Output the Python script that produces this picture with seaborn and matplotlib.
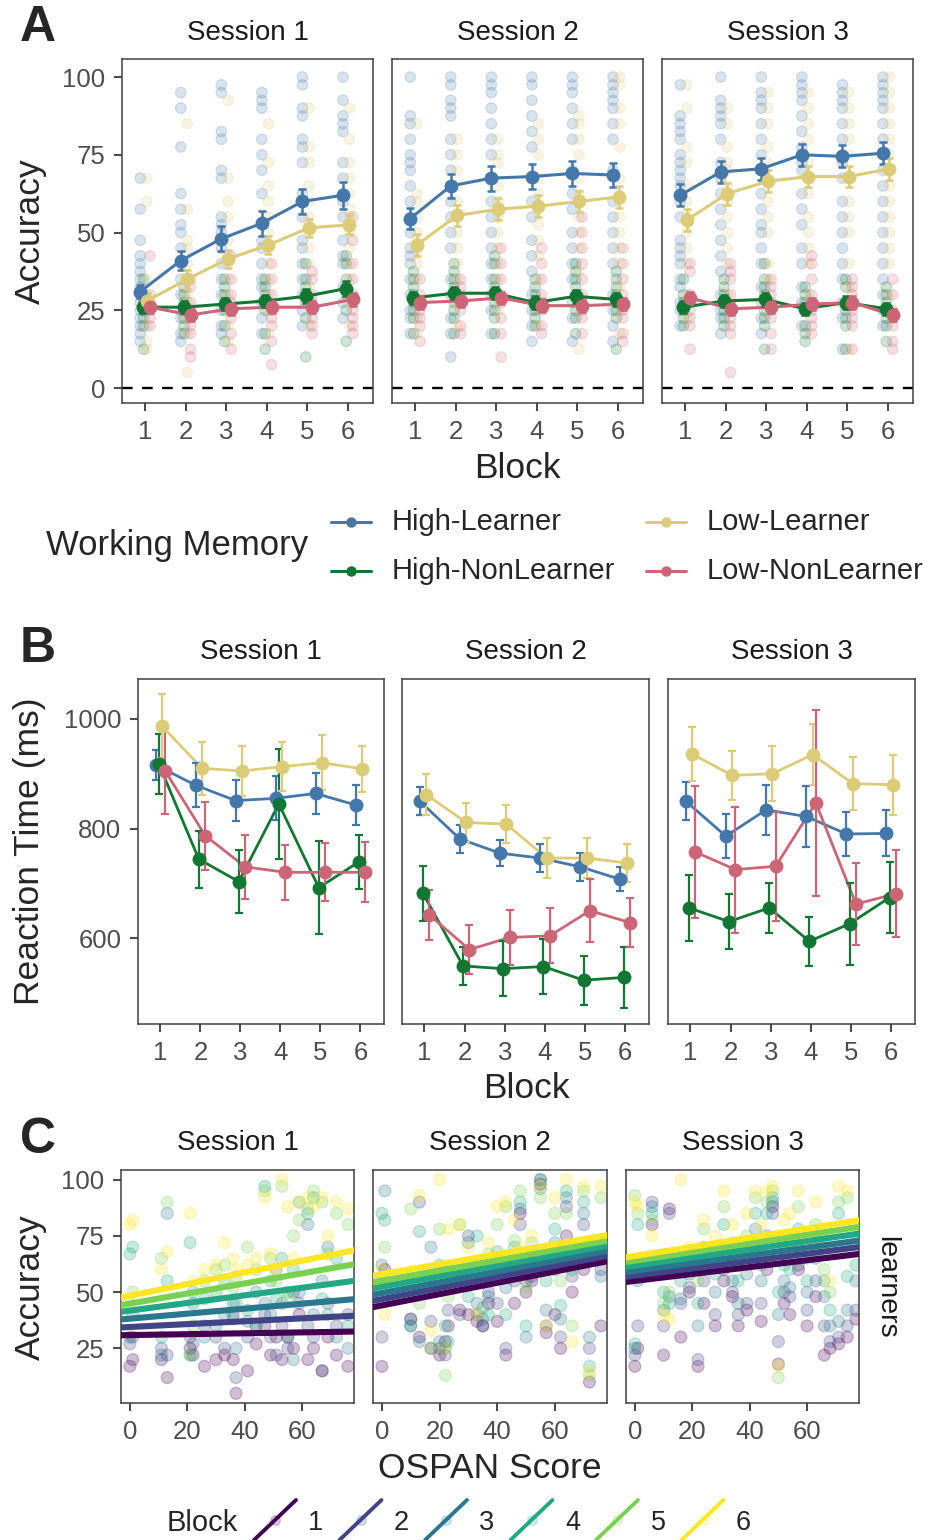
import numpy as np
import pandas as pd
import matplotlib
matplotlib.use("Agg")
import matplotlib.pyplot as plt
import seaborn as sns
from matplotlib.lines import Line2D

sns.set_theme(style="ticks")
plt.rcParams['font.family'] = ['Liberation Sans', 'DejaVu Sans']

# ---------------- DATA ----------------
SESSIONS = ["Session 1", "Session 2", "Session 3"]
BLOCKS = [1, 2, 3, 4, 5, 6]
GROUPS = ["High-Learner", "High-NonLearner", "Low-Learner", "Low-NonLearner"]
GROUP_COLORS = ["#4477AA", "#117733", "#DDCC77", "#CC6677"]

# Panel A: mean accuracy and standard error, per session (rows) x block (cols)
acc_mean_HL = [[31, 41, 48, 53, 60, 62], [54.5, 65, 67.5, 68, 69, 68.5], [62, 69.5, 70.5, 75, 74.5, 75.5]]
acc_se_HL = [[2, 3, 4, 4, 4, 4.3], [3.5, 3.8, 4, 4, 4, 4], [3.5, 3.5, 3.5, 3.5, 3.5, 3.5]]
acc_mean_HNL = [[26, 26, 27, 28, 29.5, 32], [29, 30.5, 30.5, 27.5, 29.5, 28.5], [26, 28, 28.5, 25.5, 27.5, 25.5]]
acc_se_HNL = [[2, 2, 2, 2, 2.2, 2.5], [2, 2, 2, 2, 2, 2], [2, 2, 2, 2, 2, 2]]
acc_mean_LL = [[28, 35, 41.5, 46, 51.5, 52.5], [46, 55.5, 57.5, 58.5, 60, 61.5], [54, 62.5, 66.5, 68, 68, 70.5]]
acc_se_LL = [[2.5, 3, 3, 3, 3, 3], [3.5, 3.5, 3.5, 3.5, 3.5, 3.5], [3.5, 3.5, 3.5, 3.5, 3.5, 3.5]]
acc_mean_LNL = [[26, 23.5, 25.5, 26, 26, 28.5], [27.5, 28, 29, 26.5, 26.5, 27], [29, 25.5, 26, 27, 27.5, 23.5]]
acc_se_LNL = [[2, 2, 2, 2, 2, 2], [2, 2, 2, 2, 2, 2], [2, 2, 2, 2, 2, 2]]

# Panel A: individual accuracies [session][block]
acc_pts_HL = [
    [[15, 17.5, 20, 22.5, 25, 27.5, 30, 32.5, 35, 37.5, 40, 42.5, 47.5, 57.5, 67.5],
     [15, 17.5, 22.5, 25, 30, 35, 40, 45, 50, 52.5, 57.5, 62.5, 77.5, 90, 95],
     [17.5, 20, 25, 30, 35, 40, 45, 50, 52.5, 55, 67.5, 70, 80, 82.5, 95, 97.5],
     [17.5, 22.5, 27.5, 32.5, 35, 40, 45, 47.5, 52.5, 62.5, 70, 75, 80, 90, 92.5, 95],
     [20, 25, 30, 35, 40, 45, 47.5, 55, 60, 62.5, 72.5, 77.5, 80, 87.5, 90, 97.5, 100],
     [22.5, 27.5, 32.5, 40, 42.5, 47.5, 55, 60, 62.5, 67.5, 72.5, 82.5, 85, 87.5, 92.5, 100]],
    [[17.5, 22.5, 25, 30, 35, 40, 42.5, 45, 50, 55, 60, 65, 70, 72.5, 75, 80, 85, 87.5, 100],
     [10, 17.5, 22.5, 30, 35, 45, 50, 55, 60, 65, 70, 75, 80, 87.5, 90, 92.5, 97.5, 100],
     [17.5, 25, 30, 35, 40, 45, 50, 55, 60, 67.5, 75, 80, 85, 90, 95, 97.5, 100],
     [15, 20, 25, 30, 37.5, 42.5, 47.5, 55, 60, 67.5, 77.5, 82.5, 87.5, 92.5, 97.5, 100],
     [15, 22.5, 27.5, 35, 40, 45, 50, 57.5, 62.5, 70, 80, 85, 90, 95, 97.5, 100],
     [15, 20, 25, 30, 40, 45, 50, 55, 60, 70, 80, 85, 90, 92.5, 95, 97.5, 100]],
    [[20, 25, 27.5, 32.5, 35, 40, 42.5, 45, 47.5, 55, 60, 65, 67.5, 70, 72.5, 75, 80, 82.5, 85, 87.5, 97.5],
     [17.5, 22.5, 25, 30, 37.5, 42.5, 47.5, 52.5, 57.5, 62.5, 67.5, 72.5, 80, 85, 87.5, 90, 92.5, 100],
     [17.5, 22.5, 27.5, 32.5, 40, 45, 50, 52.5, 57.5, 62.5, 70, 75, 80, 85, 90, 92.5, 95, 100],
     [20, 27.5, 32.5, 40, 45, 52.5, 57.5, 62.5, 70, 72.5, 77.5, 82.5, 87.5, 92.5, 95, 97.5, 100],
     [12.5, 22.5, 27.5, 35, 40, 45, 50, 55, 60, 67.5, 72.5, 80, 85, 90, 92.5, 95, 97.5],
     [20, 25, 30, 35, 40, 45, 50, 55, 60, 65, 70, 75, 80, 85, 90, 92.5, 95, 97.5, 100]],
]
acc_pts_HNL = [
    [[12.5, 20, 22.5, 25, 27.5, 30, 35], [17.5, 20, 22.5, 25, 27.5, 30, 32.5],
     [15, 20, 25, 27.5, 30, 32.5, 35], [12.5, 17.5, 25, 27.5, 30, 32.5, 35],
     [10, 22.5, 27.5, 30, 32.5, 35, 40], [15, 25, 30, 32.5, 35, 40, 42.5]],
    [[17.5, 22.5, 25, 27.5, 30, 32.5, 35, 37.5], [17.5, 22.5, 25, 27.5, 30, 32.5, 35, 37.5, 40],
     [17.5, 22.5, 25, 27.5, 30, 32.5, 35, 40, 42.5], [20, 22.5, 25, 27.5, 30, 32.5, 35],
     [17.5, 22.5, 25, 30, 32.5, 35, 37.5, 40], [12.5, 22.5, 25, 27.5, 30, 32.5, 35, 37.5]],
    [[20, 22.5, 25, 27.5, 30, 35], [20, 22.5, 25, 27.5, 30, 32.5, 35],
     [12.5, 20, 22.5, 25, 30, 32.5, 35, 40], [15, 17.5, 20, 25, 27.5, 30, 32.5],
     [12.5, 20, 22.5, 25, 27.5, 32.5, 35], [15, 20, 22.5, 25, 27.5, 30, 32.5]],
]
acc_pts_LL = [
    [[12.5, 15, 20, 25, 27.5, 30, 35, 60, 67.5], [5, 17.5, 22.5, 27.5, 30, 35, 40, 45, 47.5, 57.5, 85],
     [15, 20, 25, 30, 35, 40, 42.5, 47.5, 55, 60, 67.5, 92.5], [17.5, 25, 30, 35, 40, 45, 50, 55, 60, 65, 72.5, 85],
     [20, 27.5, 32.5, 40, 45, 50, 52.5, 55, 60, 65, 72.5, 77.5, 90], [20, 27.5, 35, 40, 45, 50, 55, 57.5, 62.5, 67.5, 72.5, 80, 90]],
    [[17.5, 22.5, 27.5, 35, 40, 45, 47.5, 50, 55, 60, 62.5, 85], [20, 27.5, 35, 40, 45, 50, 55, 60, 65, 70, 75, 80],
     [25, 30, 35, 40, 45, 50, 55, 60, 65, 72.5, 75, 80], [20, 27.5, 35, 42.5, 47.5, 52.5, 57.5, 62.5, 67.5, 75, 80, 85],
     [12.5, 25, 30, 37.5, 45, 50, 55, 62.5, 67.5, 75, 80, 85, 87.5], [17.5, 25, 32.5, 40, 45, 50, 55, 60, 67.5, 77.5, 85, 90, 97.5, 100]],
    [[22.5, 30, 40, 45, 50, 55, 60, 65, 72.5, 77.5, 90, 97.5], [30, 40, 45, 50, 55, 60, 65, 70, 72.5, 77.5, 85, 90],
     [25, 35, 40, 50, 55, 60, 67.5, 72.5, 77.5, 85, 90, 95], [30, 40, 45, 50, 55, 62.5, 67.5, 72.5, 80, 85, 90, 95],
     [12.5, 32.5, 40, 50, 55, 60, 67.5, 75, 80, 85, 90, 95], [30, 40, 45, 50, 55, 60, 65, 70, 75, 80, 85, 90, 95, 100]],
]
acc_pts_LNL = [
    [[20, 22.5, 25, 27.5, 30, 42.5], [10, 12.5, 17.5, 20, 22.5, 25, 27.5, 32.5, 35],
     [12.5, 17.5, 22.5, 25, 27.5, 30, 35, 42.5], [7.5, 15, 20, 22.5, 25, 30, 35, 40],
     [17.5, 20, 22.5, 25, 27.5, 30, 35, 37.5], [17.5, 20, 22.5, 25, 27.5, 30, 35, 40, 47.5, 55]],
    [[15, 20, 22.5, 25, 27.5, 30, 35], [17.5, 20, 25, 27.5, 30, 32.5, 35],
     [10, 17.5, 22.5, 27.5, 30, 35, 40, 45], [17.5, 20, 25, 27.5, 30, 35, 40, 45],
     [17.5, 22.5, 25, 27.5, 30, 35, 40, 45, 50, 55], [15, 17.5, 22.5, 25, 27.5, 30, 35, 40, 45]],
    [[12.5, 20, 22.5, 25, 27.5, 30, 37.5, 40], [5, 17.5, 20, 22.5, 25, 30, 35, 37.5, 40],
     [12.5, 17.5, 22.5, 25, 27.5, 30, 32.5, 35], [17.5, 20, 22.5, 25, 27.5, 30, 35, 40, 42.5],
     [12.5, 20, 22.5, 25, 27.5, 30, 32.5, 35], [12.5, 15, 20, 22.5, 25, 30, 35]],
]

# Panel B: mean reaction time and error, [session][block]
rt_mean_HL = [[916, 879, 851, 855, 864, 843], [850, 781, 755, 746, 730, 707], [850, 786, 834, 822, 790, 791]]
rt_err_HL = [[28, 40, 38, 40, 37, 36], [25, 25, 24, 25, 25, 22], [35, 40, 45, 55, 40, 42]]
rt_mean_HNL = [[918, 744, 703, 845, 692, 739], [682, 549, 544, 548, 523, 528], [655, 630, 655, 594, 626, 674]]
rt_err_HNL = [[55, 52, 58, 100, 85, 50], [50, 35, 50, 50, 45, 55], [60, 50, 45, 45, 75, 65]]
rt_mean_LL = [[987, 910, 905, 913, 920, 909], [862, 811, 808, 746, 746, 737], [936, 897, 900, 935, 882, 880]]
rt_err_LL = [[58, 48, 45, 45, 50, 42], [38, 35, 35, 37, 37, 35], [50, 45, 50, 55, 48, 55]]
rt_mean_LNL = [[905, 787, 730, 720, 720, 720], [642, 579, 601, 604, 650, 628], [757, 725, 731, 847, 662, 681]]
rt_err_LNL = [[78, 62, 58, 50, 53, 55], [45, 45, 50, 50, 58, 45], [120, 115, 100, 170, 75, 80]]

# Panel C: learners' OSPAN score and accuracy per block [block][participant]
ospan_S1 = [0, 1, 11, 13, 21, 22, 26, 30, 33, 36, 37, 41, 44, 47, 49, 51, 53, 55, 57, 59, 62, 64, 67, 69, 72, 76]
acc_C_S1 = [
    [17, 20, 20, 12, 25, 22, 17, 20, 22, 20, 5, 15, 27, 35, 22, 30, 20, 30, 25, 40, 20, 25, 15, 30, 22, 17],
    [27, 30, 25, 22, 30, 27, 35, 30, 25, 40, 12, 30, 35, 40, 30, 22, 35, 25, 50, 45, 35, 30, 15, 45, 35, 40],
    [30, 40, 22, 85, 22, 45, 30, 35, 40, 45, 25, 37, 50, 45, 40, 60, 45, 30, 20, 50, 80, 40, 55, 70, 30, 25],
    [67, 70, 30, 55, 72, 50, 47, 50, 55, 38, 45, 42, 35, 97, 55, 47, 65, 50, 60, 90, 85, 92, 47, 40, 65, 35],
    [45, 50, 65, 90, 22, 35, 55, 60, 62, 52, 57, 70, 60, 95, 65, 55, 97, 47, 75, 82, 87, 95, 90, 67, 85, 80],
    [80, 82, 60, 68, 85, 55, 60, 62, 72, 65, 60, 62, 65, 92, 67, 60, 100, 88, 65, 90, 92, 88, 92, 75, 90, 87],
]
ospan_S2 = [0, 1, 10, 13, 17, 20, 22, 23, 27, 30, 33, 35, 37, 40, 43, 46, 48, 50, 52, 55, 57, 60, 62, 64, 66, 70, 72, 76]
acc_C_S2 = [
    [17, 60, 38, 30, 25, 22, 28, 35, 42, 40, 37, 35, 45, 37, 22, 45, 85, 50, 55, 98, 32, 40, 25, 75, 50, 60, 10, 35],
    [30, 55, 35, 90, 37, 25, 22, 42, 40, 75, 40, 35, 50, 45, 25, 55, 80, 55, 57, 100, 35, 60, 30, 88, 57, 80, 25, 60],
    [62, 95, 38, 28, 70, 28, 25, 60, 55, 72, 45, 38, 48, 62, 52, 63, 87, 30, 62, 96, 42, 72, 38, 92, 65, 85, 30, 57],
    [85, 82, 35, 77, 55, 62, 35, 28, 58, 48, 75, 43, 40, 68, 40, 70, 90, 35, 68, 100, 55, 78, 44, 95, 60, 90, 17, 70],
    [55, 70, 87, 45, 25, 78, 13, 48, 80, 62, 60, 55, 67, 80, 88, 73, 95, 52, 72, 92, 60, 85, 55, 85, 35, 95, 13, 92],
    [60, 40, 55, 93, 33, 100, 25, 78, 80, 70, 40, 62, 72, 88, 90, 82, 70, 60, 75, 97, 35, 92, 62, 100, 28, 97, 15, 97],
]
ospan_S3 = [0, 1, 6, 10, 12, 16, 19, 22, 24, 28, 31, 34, 36, 39, 42, 44, 46, 48, 50, 52, 54, 57, 60, 63, 66, 68, 71, 74, 77]
acc_C_S3 = [
    [17, 25, 80, 22, 87, 30, 50, 17, 45, 35, 55, 48, 35, 42, 65, 37, 60, 88, 18, 45, 40, 60, 35, 48, 22, 25, 27, 30, 38],
    [22, 35, 90, 35, 85, 45, 52, 20, 55, 40, 60, 50, 40, 45, 70, 45, 65, 85, 28, 50, 48, 62, 42, 55, 35, 28, 30, 35, 42],
    [25, 55, 88, 42, 48, 47, 58, 35, 62, 50, 70, 55, 45, 58, 78, 55, 75, 90, 40, 55, 52, 70, 50, 65, 48, 35, 37, 42, 55],
    [27, 80, 85, 50, 45, 55, 62, 45, 70, 58, 80, 62, 55, 68, 85, 62, 85, 92, 50, 62, 60, 78, 55, 72, 55, 42, 85, 57, 62],
    [93, 85, 82, 45, 50, 60, 65, 55, 78, 68, 88, 72, 62, 75, 92, 72, 90, 95, 12, 70, 75, 88, 65, 80, 60, 50, 90, 92, 72],
    [90, 88, 75, 40, 38, 100, 70, 62, 82, 75, 95, 80, 70, 85, 95, 80, 95, 97, 17, 82, 85, 95, 72, 90, 70, 55, 97, 95, 80],
]
# fitted lines (intercept at OSPAN 0, slope) per block
fit_int_S1 = [30.9, 34.5, 38.2, 41.8, 44.9, 48.4]
fit_slope_S1 = [0.020, 0.064, 0.111, 0.169, 0.224, 0.259]
fit_int_S2 = [44.1, 46.9, 49.6, 52.4, 55.1, 58.0]
fit_slope_S2 = [0.251, 0.246, 0.240, 0.234, 0.228, 0.222]
fit_int_S3 = [55.0, 57.3, 59.5, 61.8, 64.0, 66.1]
fit_slope_S3 = [0.153, 0.163, 0.172, 0.182, 0.192, 0.203]
BLOCK_COLORS = ["#440154", "#414487", "#2A788E", "#22A884", "#7AD151", "#FDE725"]

# ---------------- LAYOUT ----------------
W, H = 940, 1540
fig = plt.figure(figsize=(W / 100, H / 100), dpi=100)
PAL = dict(zip(GROUPS, GROUP_COLORS))
DODGE = dict(zip(GROUPS, [-0.12, -0.04, 0.04, 0.12]))
TICK_C = "#4d4d4d"
FS_TICK = 18.5
FS_STRIP = 20
FS_TITLE = 25.5


def add_ax(x0, x1, y0, y1):
    return fig.add_axes([x0 / W, 1 - y1 / H, (x1 - x0) / W, (y1 - y0) / H])


def style(ax):
    for s in ax.spines.values():
        s.set_color("#404040")
        s.set_linewidth(1.1)
        s.set_visible(True)
    ax.tick_params(axis="both", direction="out", length=5.5, width=1.5, color=TICK_C,
                   labelcolor=TICK_C, labelsize=FS_TICK, pad=6.5)
    ax.grid(False)
    ax.set_xlabel("")
    ax.set_ylabel("")


ov = fig.add_axes([0, 0, 1, 1], zorder=10)
ov.set_xlim(0, W)
ov.set_ylim(H, 0)
ov.axis("off")


def txt(x, y, s, size, **kw):
    ov.text(x, y, s, fontsize=size, ha=kw.pop("ha", "center"), va=kw.pop("va", "center"), **kw)


# ---------------- PANEL A ----------------
A_X = [(122, 373), (392, 643), (662, 913)]
A_Y = (59, 403)
acc_means = dict(zip(GROUPS, [acc_mean_HL, acc_mean_HNL, acc_mean_LL, acc_mean_LNL]))
acc_ses = dict(zip(GROUPS, [acc_se_HL, acc_se_HNL, acc_se_LL, acc_se_LNL]))
acc_pts = dict(zip(GROUPS, [acc_pts_HL, acc_pts_HNL, acc_pts_LL, acc_pts_LNL]))

for si in range(3):
    ax = add_ax(A_X[si][0], A_X[si][1], *A_Y)
    rows = []
    for g in GROUPS:
        for bi, vals in enumerate(acc_pts[g][si]):
            for v in vals:
                rows.append((BLOCKS[bi] + DODGE[g], v, g))
    pdf = pd.DataFrame(rows, columns=["x", "acc", "group"])
    sns.scatterplot(data=pdf, x="x", y="acc", hue="group", hue_order=GROUPS, palette=PAL,
                    alpha=0.2, s=58, edgecolor="face", linewidth=0.9, legend=False, ax=ax, zorder=1)
    ax.axhline(0, color="black", lw=1.7, ls=(0, (4.5, 4)), zorder=2)
    for g in GROUPS:
        xs = [b + DODGE[g] for b in BLOCKS]
        mdf = pd.DataFrame({"x": xs, "m": acc_means[g][si]})
        sns.lineplot(data=mdf, x="x", y="m", color=PAL[g], lw=2.2, ax=ax, zorder=3)
        ax.errorbar(xs, acc_means[g][si], yerr=acc_ses[g][si], fmt="o", color=PAL[g], ms=9,
                    capsize=3.2, elinewidth=1.8, capthick=1.8, zorder=4)
    ax.set_xlim(0.43, 6.62)
    ax.set_ylim(-4.8, 105.8)
    ax.set_xticks(BLOCKS)
    ax.set_yticks([0, 25, 50, 75, 100])
    style(ax)
    if si > 0:
        ax.tick_params(axis="y", left=False, labelleft=False)
    txt((A_X[si][0] + A_X[si][1]) / 2, 33, SESSIONS[si], FS_STRIP, color="#1a1a1a")

txt(38, 28, "A", 36, fontweight="bold")
txt(30, 231, "Accuracy", FS_TITLE, rotation=90)
txt(517, 468, "Block", FS_TITLE)

# legend A
txt(46, 546, "Working Memory", 25, ha="left")
leg_pos = {"High-Learner": (331, 522), "High-NonLearner": (331, 571),
           "Low-Learner": (646, 522), "Low-NonLearner": (646, 571)}
for g in GROUPS:
    x0, y0 = leg_pos[g]
    ov.add_line(Line2D([x0, x0 + 40], [y0, y0], color=PAL[g], lw=2.2))
    ov.plot([x0 + 20], [y0], "o", color=PAL[g], ms=6.5)
    txt(x0 + 61, y0, g, 21, ha="left")

# ---------------- PANEL B ----------------
B_X = [(138, 384), (402, 649), (668, 915)]
B_Y = (679, 1024)
rt_means = dict(zip(GROUPS, [rt_mean_HL, rt_mean_HNL, rt_mean_LL, rt_mean_LNL]))
rt_errs = dict(zip(GROUPS, [rt_err_HL, rt_err_HNL, rt_err_LL, rt_err_LNL]))
for si in range(3):
    ax = add_ax(B_X[si][0], B_X[si][1], *B_Y)
    for g in GROUPS:
        xs = [b + DODGE[g] for b in BLOCKS]
        mdf = pd.DataFrame({"x": xs, "m": rt_means[g][si]})
        sns.lineplot(data=mdf, x="x", y="m", color=PAL[g], lw=2.0, ax=ax, zorder=3)
        ax.errorbar(xs, rt_means[g][si], yerr=rt_errs[g][si], fmt="o", color=PAL[g], ms=9,
                    capsize=2.6, elinewidth=1.6, capthick=1.6, zorder=4)
    ax.set_xlim(0.44, 6.59)
    ax.set_ylim(443, 1073)
    ax.set_xticks(BLOCKS)
    ax.set_yticks([600, 800, 1000])
    style(ax)
    if si > 0:
        ax.tick_params(axis="y", left=False, labelleft=False)
    txt((B_X[si][0] + B_X[si][1]) / 2, 652, SESSIONS[si], FS_STRIP, color="#1a1a1a")

txt(38, 649, "B", 36, fontweight="bold")
txt(30, 851, "Reaction Time (ms)", FS_TITLE, rotation=90)
txt(526, 1088, "Block", FS_TITLE)

# ---------------- PANEL C ----------------
C_X = [(121, 354), (373, 607), (626, 859)]
C_Y = (1170, 1403)
C_XLIM = (-3.1, 78.1)
ospans = [ospan_S1, ospan_S2, ospan_S3]
accCs = [acc_C_S1, acc_C_S2, acc_C_S3]
fints = [fit_int_S1, fit_int_S2, fit_int_S3]
fslopes = [fit_slope_S1, fit_slope_S2, fit_slope_S3]
BPAL = dict(zip([str(b) for b in BLOCKS], BLOCK_COLORS))
for si in range(3):
    ax = add_ax(C_X[si][0], C_X[si][1], *C_Y)
    rows = []
    for bi, vals in enumerate(accCs[si]):
        for o, v in zip(ospans[si], vals):
            rows.append((o, v, str(BLOCKS[bi])))
    cdf = pd.DataFrame(rows, columns=["ospan", "acc", "block"])
    sns.scatterplot(data=cdf, x="ospan", y="acc", hue="block", palette=BPAL,
                    hue_order=[str(b) for b in BLOCKS], alpha=0.25, s=74, edgecolor="face",
                    linewidth=0.9, legend=False, ax=ax, zorder=1)
    xl = np.array(C_XLIM)
    for bi in range(6):
        ldf = pd.DataFrame({"x": xl, "y": fints[si][bi] + fslopes[si][bi] * xl})
        sns.lineplot(data=ldf, x="x", y="y", color=BLOCK_COLORS[bi], lw=4.4, ax=ax, zorder=3)
    ax.set_xlim(*C_XLIM)
    ax.set_ylim(0.7, 104.3)
    ax.set_xticks([0, 20, 40, 60])
    ax.set_yticks([25, 50, 75, 100])
    style(ax)
    if si > 0:
        ax.tick_params(axis="y", left=False, labelleft=False)
    txt((C_X[si][0] + C_X[si][1]) / 2, 1143, SESSIONS[si], FS_STRIP, color="#1a1a1a")

txt(886, 1287, "learners", 20.5, rotation=-90, color="#1a1a1a")
txt(38, 1140, "C", 36, fontweight="bold")
txt(30, 1287, "Accuracy", FS_TITLE, rotation=90)
txt(490, 1468, "OSPAN Score", FS_TITLE)

# legend C
txt(202, 1523, "Block", 21)
for bi, b in enumerate(BLOCKS):
    kx = 254 + 85.5 * bi
    ov.add_line(Line2D([kx, kx + 42], [1540, 1500], color=BLOCK_COLORS[bi], lw=2.8))
    ov.plot([kx + 21], [1520], "o", color=BLOCK_COLORS[bi], ms=7, alpha=0.2)
    txt(kx + 62, 1523, str(b), 19.5)

fig.savefig("out.png", dpi=100, facecolor="white")
